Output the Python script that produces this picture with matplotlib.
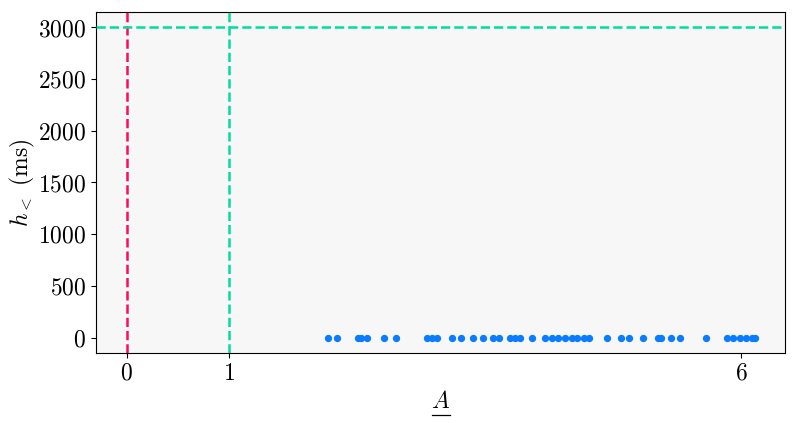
import numpy as np
import matplotlib
matplotlib.use('Agg')
import matplotlib.pyplot as plt
from matplotlib.lines import Line2D

plt.rcParams['font.family'] = 'serif'
plt.rcParams['font.serif'] = ['cmr10']
plt.rcParams['mathtext.fontset'] = 'cm'
plt.rcParams['axes.formatter.use_mathtext'] = True
plt.rcParams['font.size'] = 17

# valeurs de A (toutes avec h_< = 0 ms)
A_vals = [1.97, 2.05, 2.26, 2.29, 2.35, 2.51, 2.63, 2.93, 2.98, 3.03,
          3.18, 3.27, 3.38, 3.48, 3.58, 3.64, 3.74, 3.79, 3.84, 3.96,
          4.09, 4.15, 4.21, 4.28, 4.35, 4.40, 4.47, 4.52, 4.69, 4.83,
          4.91, 5.04, 5.19, 5.22, 5.32, 5.40, 5.66, 5.86, 5.92, 5.99,
          6.05, 6.11, 6.14]
h_vals = [0] * len(A_vals)

seuil_h = 3000
seuil_A = 1
ref_A = 0
xticks = [0, 1, 6]
yticks = [0, 500, 1000, 1500, 2000, 2500, 3000]

fig = plt.figure(figsize=(7.97, 4.23), dpi=100)
ax = fig.add_axes([96 / 797, 1 - 353 / 423, (785 - 96) / 797, (353 - 12) / 423])
ax.set_facecolor('#f7f7f7')

ax.scatter(A_vals, h_vals, s=18, color='#0a7cff', zorder=3)
ax.axvline(ref_A, color='#ff0a5a', ls='--', lw=1.8, zorder=4)
ax.axvline(seuil_A, color='#00dd9e', ls='--', lw=1.8, zorder=4)
ax.axhline(seuil_h, color='#00dd9e', ls='--', lw=1.8, zorder=4)

ax.set_xlim(-0.30, 6.43)
ax.set_ylim(-150, 3150)
ax.set_xticks(xticks)
ax.set_yticks(yticks)
ax.set_xlabel(r'$A$')
ax.set_ylabel(r'$h_<$ (ms)', labelpad=1)

# soulignement du A (mathtext n'a pas \underline)
fig.canvas.draw()
bb = ax.xaxis.label.get_window_extent().transformed(fig.transFigure.inverted())
y_line = bb.y0 - 2 / 423
fig.add_artist(Line2D([bb.x0 + 1 / 797, bb.x1], [y_line, y_line],
                      transform=fig.transFigure, color='black', lw=0.9))

fig.savefig('out.png', dpi=100)
